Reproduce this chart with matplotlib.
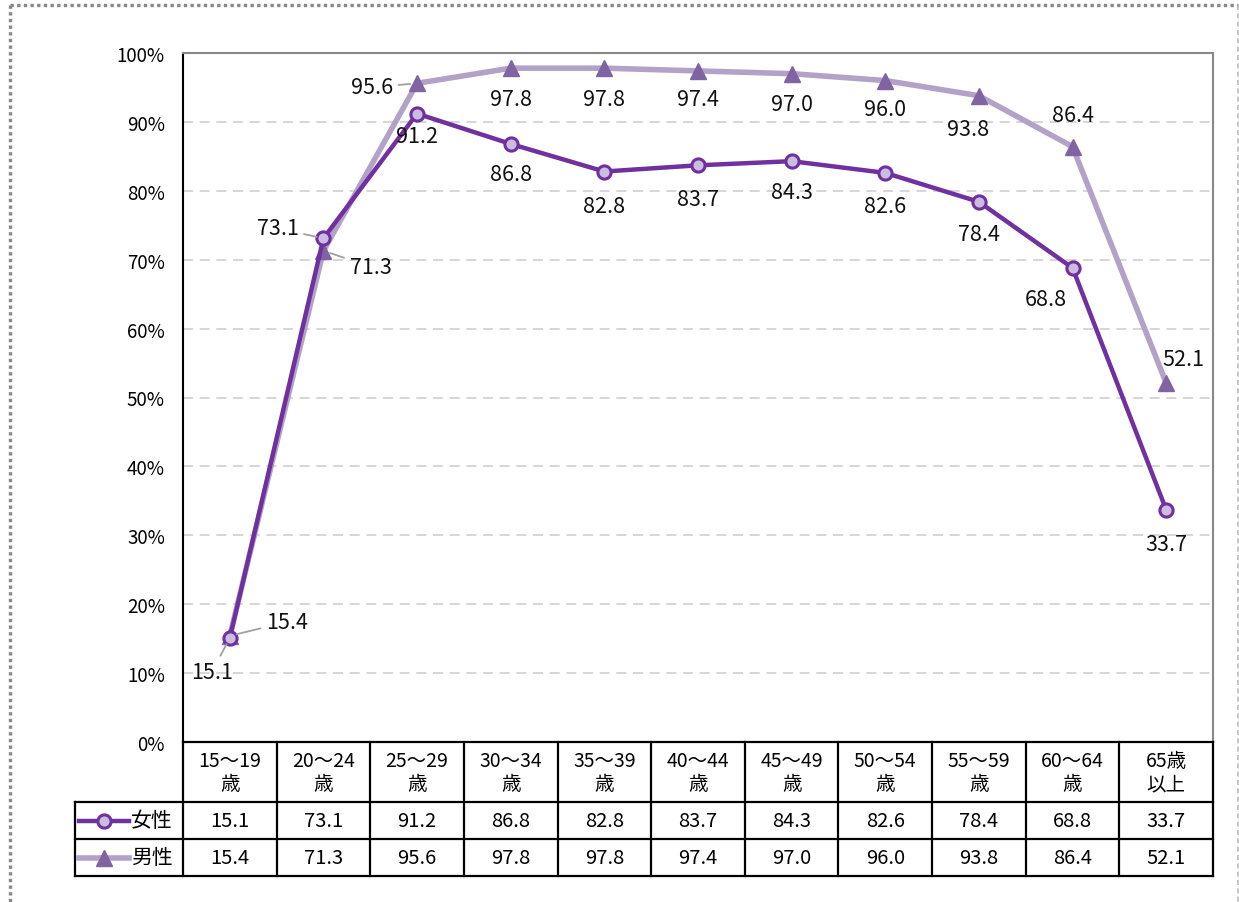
import numpy as np
import matplotlib
matplotlib.use("Agg")
import matplotlib.pyplot as plt
from matplotlib.lines import Line2D

plt.rcParams['font.family'] = ['Noto Sans CJK JP', 'DejaVu Sans']

# data
age_groups = ['15～19\n歳', '20～24\n歳', '25～29\n歳', '30～34\n歳', '35～39\n歳',
              '40～44\n歳', '45～49\n歳', '50～54\n歳', '55～59\n歳', '60～64\n歳', '65歳\n以上']
women = [15.1, 73.1, 91.2, 86.8, 82.8, 83.7, 84.3, 82.6, 78.4, 68.8, 33.7]
men = [15.4, 71.3, 95.6, 97.8, 97.8, 97.4, 97.0, 96.0, 93.8, 86.4, 52.1]
series_names = ['女性', '男性']

# label offsets in pixels (dx, dy)
women_off = [(-18, -34), (-46, 10), (0, -22), (0, -30), (0, -34), (0, -34),
             (0, -31), (0, -33), (0, -32), (-27, -31), (0, -34)]
men_off = [(57, 14), (47, -16), (-45, -4), (0, -31), (0, -31), (0, -28),
           (0, -30), (0, -28), (-11, -33), (0, 32), (17, 24)]
leader_w = [0, 1]
leader_m = [0, 1, 2]

W, H = 1239, 903
c_women = '#7030A0'
c_women_face = '#CBBDE0'
c_men = '#B3A2C7'
c_men_mk = '#8064A2'

fig = plt.figure(figsize=(W / 100, H / 100), dpi=100)

# dotted frame around the figure
fig.add_artist(Line2D([10 / W, 1238 / W], [1 - 6 / H, 1 - 6 / H], transform=fig.transFigure,
                      color='#888888', lw=2.4, linestyle=(0, (1, 1))))
fig.add_artist(Line2D([10 / W, 10 / W], [1 - 6 / H, 0], transform=fig.transFigure,
                      color='#888888', lw=2.4, linestyle=(0, (1, 1))))
fig.add_artist(Line2D([1238 / W, 1238 / W], [1 - 6 / H, 0], transform=fig.transFigure,
                      color='#BBBBBB', lw=1.2, linestyle=(0, (3, 2))))

x = np.arange(len(women))
ax = fig.add_axes([183 / W, 1 - 743 / H, 1030 / W, (743 - 54) / H])
ax.set_xlim(-0.5, len(women) - 0.5)
ax.set_ylim(0, 100)
ax.set_yticks(np.arange(0, 101, 10))
ax.set_yticklabels([f'{v}%' for v in range(0, 101, 10)])
ax.set_xticks([])
ax.tick_params(axis='y', length=0, pad=13, labelsize=13.5)
for v in range(10, 100, 10):
    ax.axhline(v, color='#D0D0D0', lw=1.2, linestyle=(0, (6, 4)), zorder=0)
ax.spines['left'].set_color('black')
ax.spines['left'].set_linewidth(1.5)
ax.spines['top'].set_color('#888888')
ax.spines['top'].set_linewidth(1.5)
ax.spines['right'].set_color('#888888')
ax.spines['right'].set_linewidth(1.5)
ax.spines['bottom'].set_visible(False)

ax.plot(x, men, color=c_men, lw=4, marker='^', markersize=11,
        markerfacecolor=c_men_mk, markeredgecolor=c_men_mk, zorder=3, clip_on=False)
ax.plot(x, women, color=c_women, lw=3.2, marker='o', markersize=9.5,
        markerfacecolor=c_women_face, markeredgecolor=c_women, markeredgewidth=2.2,
        zorder=4, clip_on=False)

def add_labels(vals, offs, leaders):
    for i, (v, (dx, dy)) in enumerate(zip(vals, offs)):
        kw = {}
        if i in leaders:
            kw['arrowprops'] = dict(arrowstyle='-', color='#A0A0A0', lw=1.3,
                                    shrinkA=2, shrinkB=5)
        ax.annotate(f'{v:.1f}', (i, v), xytext=(dx, dy), textcoords='offset pixels',
                    ha='center', va='center', fontsize=15.5, color='#111111',
                    zorder=5, annotation_clip=False, **kw)

add_labels(women, women_off, leader_w)
add_labels(men, men_off, leader_m)

# data table below the plot
col_w = 1030 / len(women)
x0 = -0.5 - 108 / col_w
tax = fig.add_axes([75 / W, 1 - 877 / H, (1213 - 75) / W, (877 - 743) / H])
tax.set_xlim(x0, len(women) - 0.5)
tax.set_ylim(134, 0)
tax.axis('off')

n = len(women)
lk = dict(color='black', lw=1.6, clip_on=False)
tax.plot([-0.5, n - 0.5], [0, 0], **lk)
tax.plot([x0, n - 0.5], [60, 60], **lk)
tax.plot([x0, n - 0.5], [97, 97], **lk)
tax.plot([x0, n - 0.5], [134, 134], **lk)
tax.plot([x0, x0], [60, 134], **lk)
for b in np.arange(-0.5, n, 1.0):
    tax.plot([b, b], [0, 134], **lk)

for i, lab in enumerate(age_groups):
    tax.text(i, 30, lab, ha='center', va='center', fontsize=14, linespacing=1.15)
    tax.text(i, 78.5, f'{women[i]:.1f}', ha='center', va='center', fontsize=14.5)
    tax.text(i, 115.5, f'{men[i]:.1f}', ha='center', va='center', fontsize=14.5)

# legend keys inside the table
px = lambda p: x0 + (p - 75) / col_w
tax.plot([px(79), px(129)], [78.5, 78.5], color=c_women, lw=3.2, clip_on=False)
tax.plot([px(104)], [78.5], marker='o', markersize=9.5, markerfacecolor=c_women_face,
         markeredgecolor=c_women, markeredgewidth=2.2, clip_on=False)
tax.plot([px(79), px(129)], [115.5, 115.5], color=c_men, lw=4, clip_on=False)
tax.plot([px(104)], [115.5], marker='^', markersize=11, color=c_men_mk, clip_on=False)
tax.text(px(131), 78.5, series_names[0], ha='left', va='center', fontsize=15)
tax.text(px(131), 115.5, series_names[1], ha='left', va='center', fontsize=15)

fig.savefig('out.png', dpi=100)
